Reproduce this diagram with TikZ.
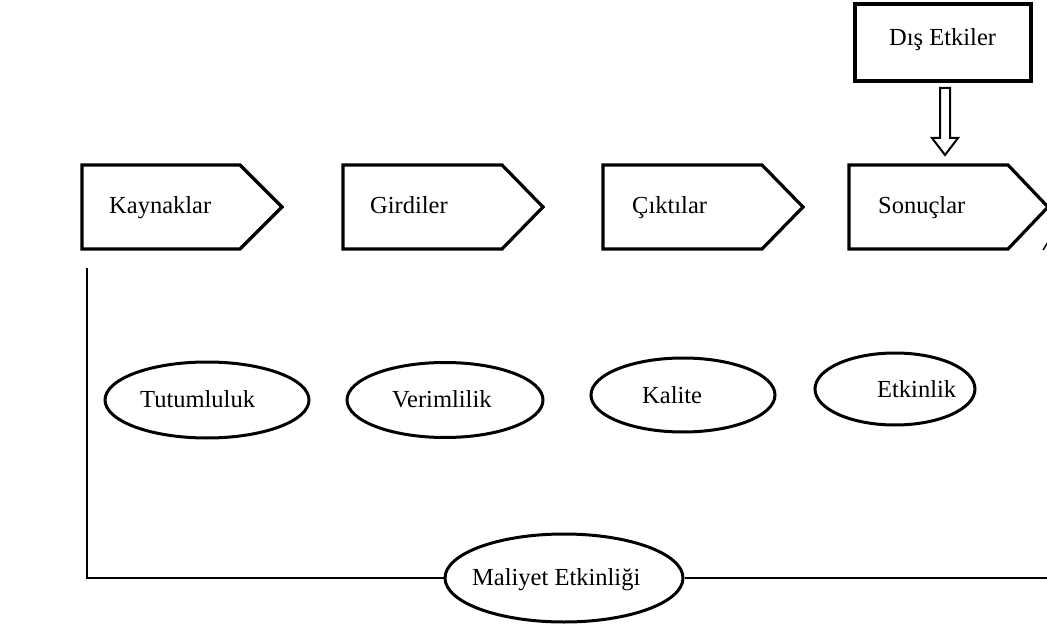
\documentclass[tikz,border=0pt]{standalone}
\usepackage{fontspec}
\setmainfont{Liberation Serif}
\usetikzlibrary{shapes.geometric}
\begin{document}
\begin{tikzpicture}[x=1pt,y=-1pt,
  chev/.style={line width=3.2pt, line join=miter, fill=white},
  oval/.style={ellipse, draw, line width=3pt, fill=white, inner sep=0pt},
  lbl/.style={anchor=base west, inner sep=0pt, font=\fontsize{24.5}{29}\selectfont},
  link/.style={line width=1.5pt}]
\useasboundingbox (0,0) rectangle (1047,628);

% external effects box and hollow arrow
\draw[line width=3.2pt] (855,4) rectangle (1031,81);
\node[lbl] (dis) at (889,46) {Dış Etkiler};
\draw[line width=2pt, line join=miter, fill=white]
  (940,88) -- (950,88) -- (950,138) -- (958,138) -- (945,155)
  -- (932,138) -- (940,138) -- cycle;

% process chevrons
\draw[chev] (82,165) -- (240,165) -- (282,207) -- (240,249) -- (82,249) -- cycle;
\node[lbl] (kay) at (109,214) {Kaynaklar};
\draw[chev] (343,165) -- (502,165) -- (543,207) -- (502,249) -- (343,249) -- cycle;
\node[lbl] (gir) at (370,214) {Girdiler};
\draw[chev] (603,165) -- (762,165) -- (803,207) -- (762,249) -- (603,249) -- cycle;
\node[lbl] (cik) at (632,214) {Çıktılar};
\draw[chev] (849,165) -- (1008,165) -- (1048,207) -- (1008,249) -- (849,249) -- cycle;
\node[lbl] (son) at (878,214) {Sonuçlar};
\draw[line width=1.5pt] (1043,250) -- (1048,242);

% performance criteria
\node[oval, minimum width=204pt, minimum height=76pt] (tut) at (207,400) {};
\node[lbl] (tutl) at (140,407) {Tutumluluk};
\node[oval, minimum width=196pt, minimum height=75pt] (ver) at (445,400) {};
\node[lbl] (verl) at (392,407) {Verimlilik};
\node[oval, minimum width=184pt, minimum height=74pt] (kal) at (683,395) {};
\node[lbl] (kall) at (642,403) {Kalite};
\node[oval, minimum width=160pt, minimum height=72pt] (etk) at (895,389) {};
\node[lbl] (etkl) at (877,397) {Etkinlik};

% cost effectiveness spanning the whole chain
\coordinate (lt) at (87,268);
\coordinate (rt) at (1047,578);
\node[oval, minimum width=238pt, minimum height=88pt] (mal) at (564,578) {};
\node[lbl] (mall) at (472,585) {Maliyet Etkinliği};
\draw[link] (lt) |- (mal.west);
\draw[link] (mal.east) -- (rt);
\end{tikzpicture}
\end{document}
